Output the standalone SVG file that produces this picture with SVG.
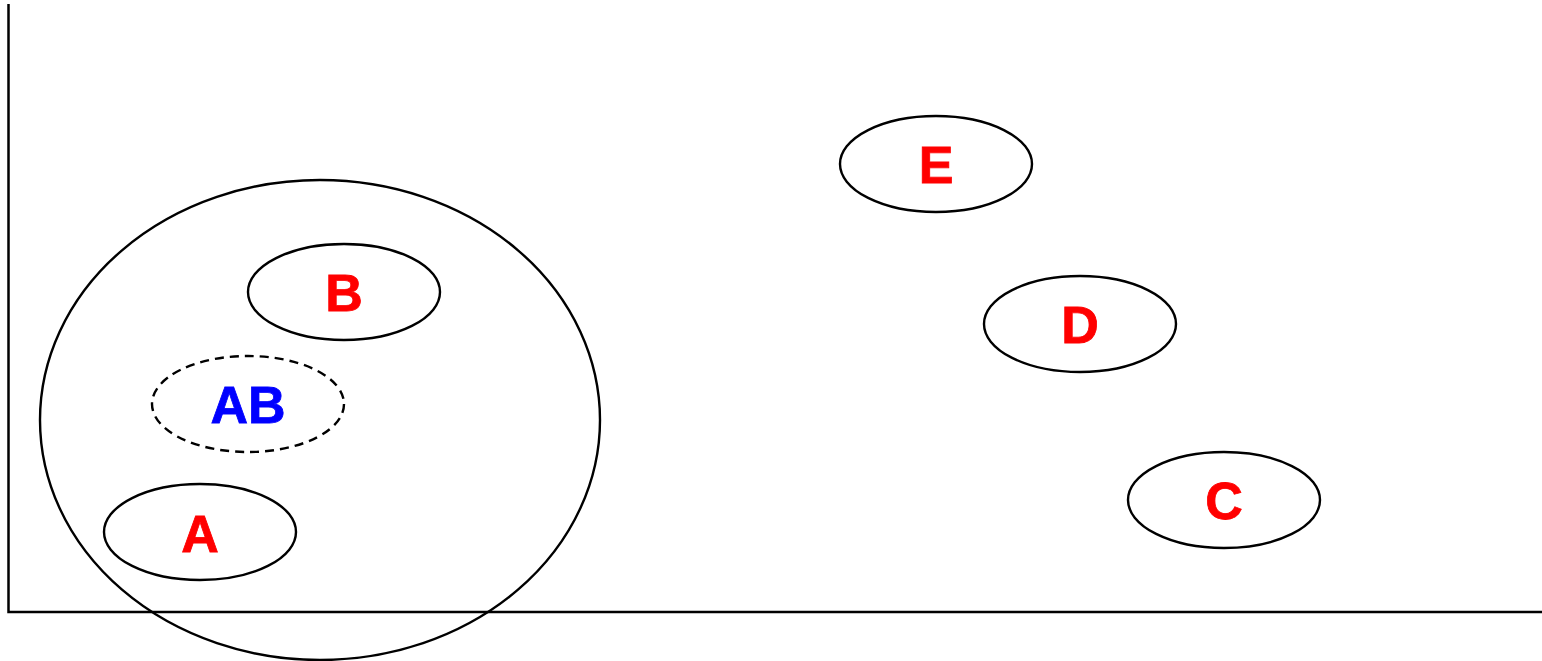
<svg xmlns="http://www.w3.org/2000/svg" width="1542" height="661" viewBox="0 0 1542 661">
<style>
.n{fill:none;stroke:#000;stroke-width:2.4}
.d{stroke-dasharray:9 6}
.t{font-family:"Liberation Sans",Arial,sans-serif;font-weight:bold;font-size:52px;text-anchor:middle;fill:#f00;stroke:#f00;stroke-width:0.8}
.b{fill:#00f;stroke:#00f}
</style>
<rect width="1542" height="661" fill="#fff"/>
<g id="axes">
<polyline points="8.5,4 8.5,612 1542,612" fill="none" stroke="#000" stroke-width="2.5"/>
</g>
<g id="group"><ellipse class="n" cx="320" cy="420" rx="280" ry="240"/></g>
<g id="B"><ellipse class="n" cx="344" cy="292" rx="96" ry="48"/><text class="t" x="344" y="311">B</text></g>
<g id="AB"><ellipse class="n d" cx="248" cy="404" rx="96" ry="48"/><text class="t b" x="248" y="423">AB</text></g>
<g id="A"><ellipse class="n" cx="200" cy="532" rx="96" ry="48"/><text class="t" x="200" y="552">A</text></g>
<g id="E"><ellipse class="n" cx="936" cy="164" rx="96" ry="48"/><text class="t" x="936" y="183">E</text></g>
<g id="D"><ellipse class="n" cx="1080" cy="324" rx="96" ry="48"/><text class="t" x="1080" y="343">D</text></g>
<g id="C"><ellipse class="n" cx="1224" cy="500" rx="96" ry="48"/><text class="t" x="1224" y="519">C</text></g>
<g id="connectors"></g>
</svg>
